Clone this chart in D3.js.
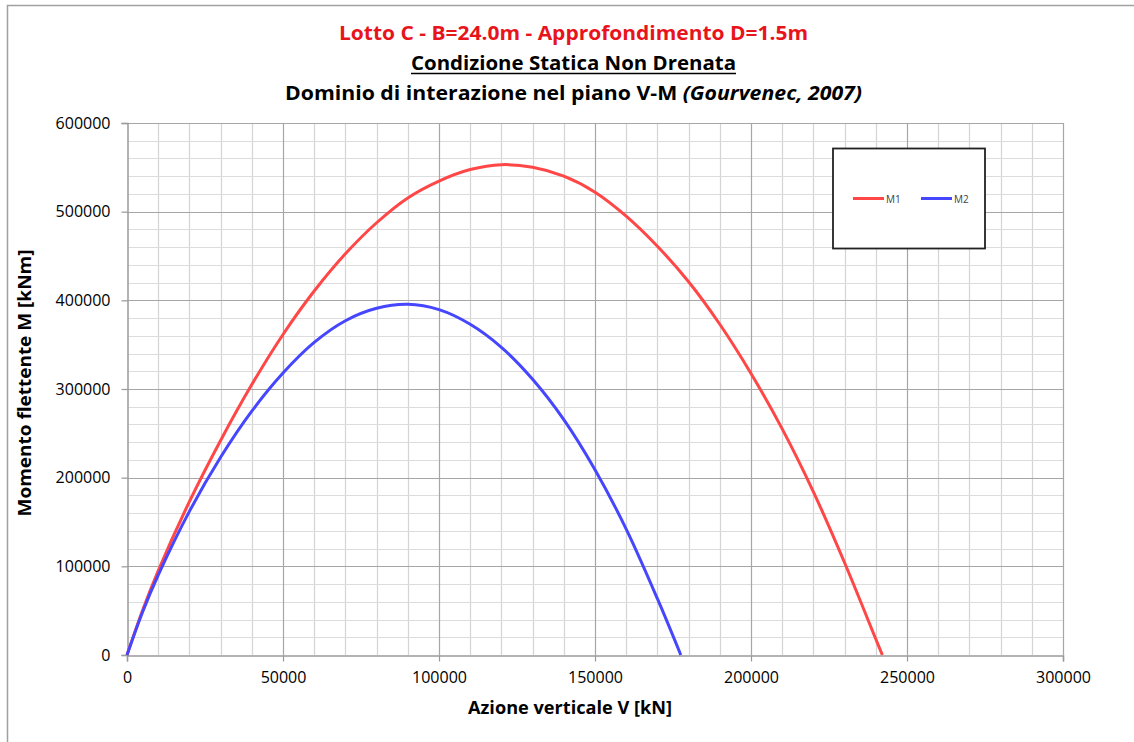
<!DOCTYPE html>
<html>
<head>
<meta charset="utf-8">
<script src="https://cdn.jsdelivr.net/npm/d3@7"></script>
<style>
  html, body { margin: 0; padding: 0; background: #fff; }
  svg { display: block; }
</style>
</head>
<body>
<svg id="chart" width="1134" height="742"></svg>
<script>
// Interaction domain data (V in kN, M in kNm)
const seriesNames = ["M1", "M2"];
const vM1 = [0, 5000, 10000, 20000, 30000, 40000, 50000, 60000, 70000, 80000, 90000, 100000,
             110000, 120000, 130000, 140000, 150000, 160000, 170000, 180000, 190000,
             200000, 210000, 220000, 230000, 240000, 242100];
const mM1 = [0, 50500, 95000, 173000, 242000, 305000, 361500, 410500, 452500, 487500, 515500, 534500,
             547500, 553000, 550000, 540000, 522000, 495000, 461000, 421000, 373000,
             317500, 255000, 184000, 104000, 18000, 0];
const vM2 = [0, 5000, 10000, 20000, 30000, 40000, 50000, 60000, 70000, 80000, 90000, 100000,
             110000, 120000, 130000, 140000, 150000, 160000, 170000, 177500];
const mM2 = [0, 48500, 90000, 162000, 223000, 275000, 318000, 352500, 377000, 391000, 395500, 389500,
             373000, 347000, 311000, 265500, 209000, 142000, 63500, 0];
const xTicks = [0, 50000, 100000, 150000, 200000, 250000, 300000];
const yTicks = [0, 100000, 200000, 300000, 400000, 500000, 600000];

const titleLine1 = "Lotto C - B=24.0m - Approfondimento D=1.5m";
const titleLine2 = "Condizione Statica Non Drenata";
const titleLine3a = "Dominio di interazione nel piano V-M ";
const titleLine3b = "(Gourvenec, 2007)";
const xTitle = "Azione verticale V [kN]";
const yTitle = "Momento flettente M [kNm]";

const FONT = "'Open Sans', 'DejaVu Sans', sans-serif";
const svg = d3.select("#chart");

// Outer chart frame
svg.append("rect")
  .attr("x", 7.5).attr("y", 5.5).attr("width", 1140).attr("height", 760)
  .attr("fill", "#fff").attr("stroke", "#a0a0a0").attr("stroke-width", 1.5);

const plot = { left: 127, right: 1063, top: 123, bottom: 655 };
const x = d3.scaleLinear().domain([0, 300000]).range([plot.left, plot.right]);
const y = d3.scaleLinear().domain([0, 600000]).range([plot.bottom, plot.top]);

// Minor gridlines
const g = svg.append("g");
g.selectAll("line.vmin").data(d3.range(0, 300001, 10000).filter(v => v % 50000 !== 0))
  .join("line").attr("class", "vmin")
  .attr("x1", d => Math.round(x(d)) + 0.5).attr("x2", d => Math.round(x(d)) + 0.5)
  .attr("y1", plot.top).attr("y2", plot.bottom)
  .attr("stroke", "#d4d4d4").attr("stroke-width", 1.2);
g.selectAll("line.hmin").data(d3.range(0, 600001, 20000).filter(v => v % 100000 !== 0))
  .join("line").attr("class", "hmin")
  .attr("x1", plot.left).attr("x2", plot.right)
  .attr("y1", d => Math.round(y(d)) + 0.5).attr("y2", d => Math.round(y(d)) + 0.5)
  .attr("stroke", "#dcdcdc").attr("stroke-width", 1.2);

// Major gridlines
g.selectAll("line.vmaj").data(xTicks.slice(1))
  .join("line").attr("class", "vmaj")
  .attr("x1", d => Math.round(x(d)) + 0.5).attr("x2", d => Math.round(x(d)) + 0.5)
  .attr("y1", plot.top).attr("y2", plot.bottom)
  .attr("stroke", "#a6a6a6").attr("stroke-width", 1.2);
g.selectAll("line.hmaj").data(yTicks.slice(1))
  .join("line").attr("class", "hmaj")
  .attr("x1", plot.left).attr("x2", plot.right)
  .attr("y1", d => Math.round(y(d)) + 0.5).attr("y2", d => Math.round(y(d)) + 0.5)
  .attr("stroke", "#a6a6a6").attr("stroke-width", 1.2);

// Axes
const xAxis = svg.append("g")
  .attr("transform", `translate(0,${plot.bottom + 0.5})`)
  .call(d3.axisBottom(x).tickValues(xTicks).tickFormat(d3.format("d")).tickSize(6).tickPadding(10));
const yAxis = svg.append("g")
  .attr("transform", `translate(${plot.left + 0.5},0)`)
  .call(d3.axisLeft(y).tickValues(yTicks).tickFormat(d3.format("d")).tickSize(6).tickPadding(11));
[xAxis, yAxis].forEach(a => {
  a.select(".domain").attr("stroke", "#9a9a9a").attr("stroke-width", 1.5);
  a.selectAll(".tick line").attr("stroke", "#9a9a9a").attr("stroke-width", 1.2);
  a.selectAll(".tick text").attr("font-family", FONT).attr("font-size", 16).attr("fill", "#000");
});

// Curves
const line = d3.line().x(d => x(d[0])).y(d => y(d[1])).curve(d3.curveCatmullRom.alpha(0.5));
const series = [
  { name: seriesNames[0], pts: d3.zip(vM1, mM1), color: "#ff4747" },
  { name: seriesNames[1], pts: d3.zip(vM2, mM2), color: "#4646ff" }
];
svg.append("g").selectAll("path").data(series).join("path")
  .attr("d", d => line(d.pts))
  .attr("fill", "none").attr("stroke", d => d.color).attr("stroke-width", 3)
  .attr("stroke-linejoin", "round");

// Legend
const lg = svg.append("g");
lg.append("rect").attr("x", 833).attr("y", 148.5).attr("width", 152).attr("height", 100)
  .attr("fill", "#fff").attr("stroke", "#222").attr("stroke-width", 1.8);
series.forEach((s, i) => {
  const x0 = 853 + i * 68;
  lg.append("line").attr("x1", x0).attr("x2", x0 + 31).attr("y1", 198.5).attr("y2", 198.5)
    .attr("stroke", s.color).attr("stroke-width", 3);
  lg.append("text").attr("x", x0 + 33).attr("y", 202.5)
    .attr("font-family", FONT).attr("font-size", 10).attr("fill", "#404040").text(s.name);
});

// Titles
const t = svg.append("g").attr("font-family", FONT).attr("font-weight", "bold").attr("text-anchor", "middle");
t.append("text").attr("x", 573.5).attr("y", 40).attr("font-size", 19.5).attr("fill", "#e8141b")
  .attr("textLength", 469).attr("lengthAdjust", "spacingAndGlyphs").text(titleLine1);
t.append("text").attr("x", 573.5).attr("y", 70).attr("font-size", 19.5).attr("fill", "#000")
  .attr("textLength", 325).attr("lengthAdjust", "spacingAndGlyphs").text(titleLine2);
svg.append("line").attr("x1", 411).attr("x2", 736).attr("y1", 73.5).attr("y2", 73.5)
  .attr("stroke", "#000").attr("stroke-width", 1.6);
const t3 = t.append("text").attr("x", 573.5).attr("y", 100).attr("font-size", 19.5).attr("fill", "#000")
  .attr("textLength", 577).attr("lengthAdjust", "spacingAndGlyphs");
t3.append("tspan").text(titleLine3a);
t3.append("tspan").attr("font-style", "italic").text(titleLine3b);

// Axis titles
svg.append("text").attr("x", 570).attr("y", 714).attr("text-anchor", "middle")
  .attr("font-family", FONT).attr("font-weight", "bold").attr("font-size", 17)
  .attr("textLength", 204).attr("lengthAdjust", "spacingAndGlyphs").text(xTitle);
svg.append("text").attr("transform", "translate(31,383) rotate(-90)").attr("text-anchor", "middle")
  .attr("font-family", FONT).attr("font-weight", "bold").attr("font-size", 17)
  .attr("textLength", 267).attr("lengthAdjust", "spacingAndGlyphs").text(yTitle);
</script>
</body>
</html>
